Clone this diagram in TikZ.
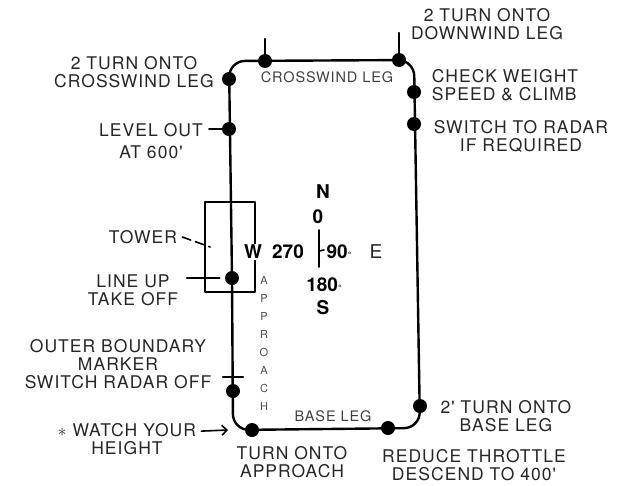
\documentclass[tikz,border=0pt]{standalone}
\usepackage{fontspec}
\setmainfont{TeX Gyre Heros}
\newfontfamily\lblfont[LetterSpace=6]{TeX Gyre Heros}
\usetikzlibrary{arrows.meta}

\tikzset{
  dot/.style={circle, fill=black, inner sep=0pt, minimum size=14pt},
  track/.style={line width=2.4pt},
  leader/.style={line width=1.6pt},
  lbl/.style={inner sep=0pt, align=center, text=black!85, font=\lblfont\fontsize{17.5}{18}\selectfont},
  leglbl/.style={inner sep=0pt, text=black!75, font=\lblfont\fontsize{14.5}{15}\selectfont},
  cmp/.style={inner sep=0pt, font=\bfseries\fontsize{19}{21}\selectfont},
  appr/.style={inner sep=0pt, text=black!70, font=\fontsize{11}{12}\selectfont},
}
\newcommand{\dg}{{\fontsize{9}{9}\selectfont °}}

\begin{document}
\begin{tikzpicture}[x=1pt, y=-1pt, line cap=round, line join=round]
  \useasboundingbox (0,0) rectangle (621,485);

  % corners of the circuit
  \coordinate (ctl) at (229,61);
  \coordinate (ctr) at (414,60);
  \coordinate (cbr) at (420,428);
  \coordinate (cbl) at (233,430);
  \coordinate (rwy) at (232,278);

  % tower box
  \node[draw, leader, minimum width=50pt, minimum height=90pt, inner sep=0pt] (tower) at (230,247) {};

  \draw[track, rounded corners=16] (rwy) -- (ctl) -- (ctr) -- (cbr) -- (cbl) -- cycle; % the circuit

  % points on the circuit
  \node[dot] (cw)   at (229,79)  {};
  \node[dot] (cwm)  at (265,61)  {};
  \node[dot] (dw)   at (399,60)  {};
  \node[dot] (chk)  at (414,92)  {};
  \node[dot] (rad)  at (414,124) {};
  \node[dot] (lvl)  at (229,129) {};
  \node[dot] (lup)  at (232,278) {};
  \node[dot] (obm)  at (233,391) {};
  \node[dot] (app)  at (252,430) {};
  \node[dot] (red)  at (388,428) {};
  \node[dot] (bas)  at (420,406) {};

  % ticks
  \draw[track] (cwm.center) -- ++(0,-22);
  \draw[track] (dw.center) -- ++(0,-27);
  \draw[track] (obm.center) ++(-10,-14) -- ++(20,0);

  % labels round the circuit
  \node[lbl] (cwlbl)  at (134,72)  {2 TURN ONTO\\CROSSWIND LEG};
  \node[lbl] (dwlbl)  at (487,24)  {2 TURN ONTO\\DOWNWIND LEG};
  \node[lbl, align=left] (chklbl) at (505,85) {CHECK WEIGHT\\SPEED \& CLIMB};
  \node[lbl] (radlbl) at (521,136) {SWITCH TO RADAR\\IF REQUIRED};
  \node[lbl] (lvllbl) at (151,141) {LEVEL OUT\\[4pt]AT 600'};
  \node[lbl] (twrlbl) at (143,237) {TOWER};
  \node[lbl] (luplbl) at (133,290) {LINE UP\\TAKE OFF};
  \node[lbl] (obmlbl) at (118,364) {OUTER BOUNDARY\\MARKER\\SWITCH RADAR OFF};
  \node[lbl] (watch)  at (127,439) {$\ast$ WATCH YOUR\\HEIGHT};
  \node[lbl] (applbl) at (292,462) {TURN ONTO\\APPROACH};
  \node[lbl] (redlbl) at (474,465) {REDUCE THROTTLE\\DESCEND TO 400'};
  \node[lbl] (baslbl) at (506,416) {2' TURN ONTO\\BASE LEG};

  \node[leglbl] (cwleg)  at (327,77)  {CROSSWIND LEG};
  \node[leglbl] (basleg) at (333,416) {BASE LEG};

  \foreach \ch [count=\i from 0] in {A,P,P,R,O,A,C,H}
    \node[appr] (appr\i) at (264,280+18.1*\i) {\ch};

  % leaders
  \draw[leader] (lvl.center) -- ++(-20,0);
  \draw[leader, dash pattern=on 9pt off 5pt] ([xshift=5pt]twrlbl.east) -- ([xshift=6pt]tower.west);
  \draw[leader] ([xshift=-5pt]lup.west) -- ++(-33,0);
  \coordinate (watchtip) at (228,430);
  \draw[leader, -{Straight Barb[length=5pt, width=10pt]}] ([shift={(5,8)}]watch.north east) -- (watchtip);

  % compass
  \node[cmp] (north) at (323,192) {N};
  \node[cmp] (zero)  at (318,217) {0};
  \node[cmp, fill=white, inner sep=1pt] (west) at (253,252) {W};
  \node[cmp] (wdeg)  at (288,252) {270};
  \node[cmp] (edeg)  at (339,252) {90\dg};
  \node[lbl, font=\fontsize{19}{21}\selectfont] (east) at (376,252) {E};
  \node[cmp] (sdeg)  at (324,285) {180\dg};
  \node[cmp] (south) at (323,308) {S};
  \coordinate (ntop) at (319,230);
  \coordinate (nbot) at (319,267);
  \draw[leader] (ntop) -- (nbot);
  \draw[leader] (319,251) -- (324,250);
\end{tikzpicture}
\end{document}
